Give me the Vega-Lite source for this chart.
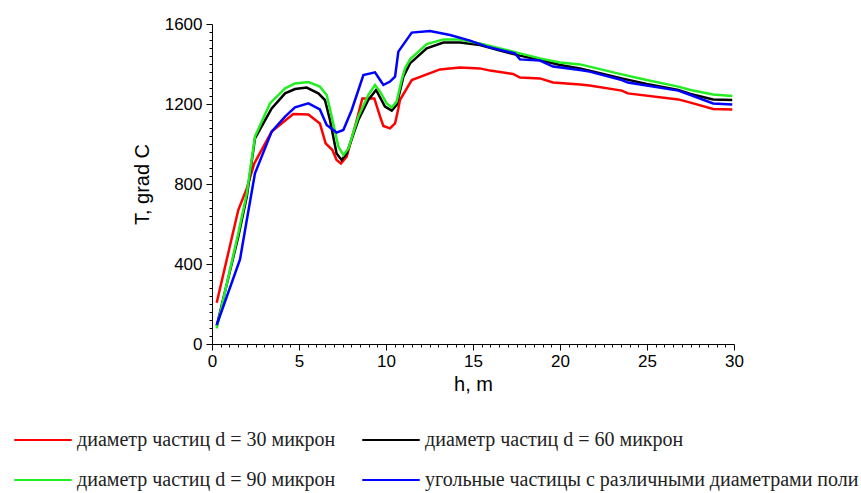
{
  "$schema": "https://vega.github.io/schema/vega-lite/v6.json",
  "autosize": "none",
  "width": 522,
  "height": 320,
  "padding": {"left": 212, "top": 24, "right": 127, "bottom": 149},
  "background": "white",
  "config": {"view": {"stroke": null}},
  "datasets": {
    "red": [
      {"h":0.27,"T":206},{"h":1.51,"T":670},{"h":2.0,"T":778},{"h":2.43,"T":903},{"h":3.43,"T":1062},{"h":4.67,"T":1150},{"h":5.54,"T":1148},{"h":6.2,"T":1103},{"h":6.53,"T":1003},{"h":6.92,"T":970},{"h":7.16,"T":920},{"h":7.41,"T":903},{"h":7.74,"T":937},{"h":8.22,"T":1087},{"h":8.64,"T":1228},{"h":9.33,"T":1228},{"h":9.66,"T":1137},{"h":9.85,"T":1090},{"h":10.23,"T":1078},{"h":10.52,"T":1103},{"h":10.71,"T":1178},{"h":10.8,"T":1220},{"h":11.48,"T":1320},{"h":13.1,"T":1373},{"h":14.25,"T":1383},{"h":15.4,"T":1378},{"h":15.98,"T":1367},{"h":17.3,"T":1350},{"h":17.7,"T":1332},{"h":18.85,"T":1328},{"h":19.6,"T":1308},{"h":21.15,"T":1298},{"h":21.7,"T":1292},{"h":23.55,"T":1267},{"h":23.9,"T":1253},{"h":26.8,"T":1223},{"h":27.5,"T":1207},{"h":28.8,"T":1175},{"h":29.9,"T":1172}
    ],
    "black": [
      {"h":0.27,"T":90},{"h":1.51,"T":537},{"h":2.0,"T":737},{"h":2.47,"T":1028},{"h":3.43,"T":1178},{"h":4.2,"T":1253},{"h":4.77,"T":1275},{"h":5.44,"T":1282},{"h":6.11,"T":1253},{"h":6.49,"T":1220},{"h":6.78,"T":1120},{"h":7.16,"T":953},{"h":7.45,"T":920},{"h":7.74,"T":953},{"h":8.41,"T":1120},{"h":8.98,"T":1220},{"h":9.43,"T":1270},{"h":9.94,"T":1187},{"h":10.33,"T":1167},{"h":10.61,"T":1195},{"h":11.0,"T":1337},{"h":11.38,"T":1403},{"h":12.34,"T":1478},{"h":13.3,"T":1507},{"h":14.25,"T":1507},{"h":15.4,"T":1495},{"h":16.55,"T":1467},{"h":17.7,"T":1442},{"h":18.85,"T":1420},{"h":20,"T":1395},{"h":21.15,"T":1378},{"h":21.7,"T":1367},{"h":23.55,"T":1328},{"h":24.98,"T":1300},{"h":26.8,"T":1270},{"h":27.5,"T":1250},{"h":28.8,"T":1223},{"h":29.9,"T":1220}
    ],
    "green": [
      {"h":0.27,"T":78},{"h":1.51,"T":553},{"h":2.0,"T":753},{"h":2.47,"T":1037},{"h":3.33,"T":1203},{"h":4.2,"T":1278},{"h":4.77,"T":1303},{"h":5.54,"T":1310},{"h":6.2,"T":1287},{"h":6.59,"T":1245},{"h":6.88,"T":1137},{"h":7.26,"T":987},{"h":7.55,"T":945},{"h":7.84,"T":978},{"h":8.41,"T":1137},{"h":8.98,"T":1245},{"h":9.37,"T":1295},{"h":9.66,"T":1262},{"h":10.04,"T":1203},{"h":10.33,"T":1183},{"h":10.61,"T":1212},{"h":10.9,"T":1320},{"h":11.09,"T":1378},{"h":11.38,"T":1423},{"h":12.34,"T":1500},{"h":13.3,"T":1523},{"h":14.25,"T":1523},{"h":15.4,"T":1503},{"h":16.55,"T":1478},{"h":17.7,"T":1453},{"h":18.85,"T":1428},{"h":20,"T":1408},{"h":21.15,"T":1398},{"h":21.7,"T":1387},{"h":23.55,"T":1348},{"h":24.98,"T":1320},{"h":26.8,"T":1287},{"h":27.5,"T":1270},{"h":28.8,"T":1248},{"h":29.9,"T":1240}
    ],
    "blue": [
      {"h":0.27,"T":95},{"h":1.61,"T":423},{"h":2.0,"T":620},{"h":2.47,"T":853},{"h":3.43,"T":1062},{"h":4.2,"T":1137},{"h":4.77,"T":1183},{"h":5.54,"T":1203},{"h":6.2,"T":1173},{"h":6.59,"T":1095},{"h":7.16,"T":1057},{"h":7.55,"T":1070},{"h":8.03,"T":1170},{"h":8.7,"T":1345},{"h":9.37,"T":1358},{"h":9.66,"T":1320},{"h":9.85,"T":1295},{"h":10.23,"T":1312},{"h":10.52,"T":1337},{"h":10.71,"T":1462},{"h":11.48,"T":1557},{"h":12.53,"T":1565},{"h":13.68,"T":1545},{"h":14.83,"T":1517},{"h":15.79,"T":1487},{"h":17.41,"T":1453},{"h":17.7,"T":1423},{"h":18.85,"T":1417},{"h":19.6,"T":1387},{"h":21.15,"T":1370},{"h":21.7,"T":1362},{"h":23.55,"T":1320},{"h":23.9,"T":1307},{"h":26.8,"T":1267},{"h":27.5,"T":1245},{"h":28.8,"T":1203},{"h":29.9,"T":1198}
    ]
  },
  "encoding": {
    "x": {
      "field": "h", "type": "quantitative",
      "scale": {"domain": [0, 30], "nice": false, "zero": false},
      "axis": {
        "title": "h, m",
        "values": [0,0.5,1,1.5,2,2.5,3,3.5,4,4.5,5,5.5,6,6.5,7,7.5,8,8.5,9,9.5,10,10.5,11,11.5,12,12.5,13,13.5,14,14.5,15,15.5,16,16.5,17,17.5,18,18.5,19,19.5,20,20.5,21,21.5,22,22.5,23,23.5,24,24.5,25,25.5,26,26.5,27,27.5,28,28.5,29,29.5,30],
        "labelExpr": "datum.value % 5 === 0 ? format(datum.value, 'd') : ''",
        "labelOverlap": false,
        "labelFlush": false,
        "grid": false,
        "domainColor": "black",
        "domainWidth": 1,
        "tickColor": "black",
        "tickSize": {"condition": {"test": "datum.value % 5 === 0", "value": 6}, "value": 3},
        "labelFont": "Liberation Sans",
        "labelFontSize": 17,
        "labelColor": "black",
        "labelPadding": 3,
        "titleFont": "Liberation Sans",
        "titleFontSize": 20,
        "titleFontWeight": "normal",
        "titleColor": "black",
        "titlePadding": 5
      }
    },
    "y": {
      "field": "T", "type": "quantitative",
      "scale": {"domain": [0, 1600], "nice": false},
      "axis": {
        "title": "T, grad C",
        "values": [0,40,80,120,160,200,240,280,320,360,400,440,480,520,560,600,640,680,720,760,800,840,880,920,960,1000,1040,1080,1120,1160,1200,1240,1280,1320,1360,1400,1440,1480,1520,1560,1600],
        "labelExpr": "datum.value % 400 === 0 ? format(datum.value, 'd') : ''",
        "labelOverlap": false,
        "grid": false,
        "domainColor": "black",
        "domainWidth": 1,
        "tickColor": "black",
        "tickSize": {"condition": {"test": "datum.value % 400 === 0", "value": 6}, "value": 3},
        "labelFont": "Liberation Sans",
        "labelFontSize": 17,
        "labelColor": "black",
        "labelPadding": 4,
        "titleFont": "Liberation Sans",
        "titleFontSize": 20,
        "titleFontWeight": "normal",
        "titleColor": "black",
        "titlePadding": 12
      }
    },
    "color": {
      "field": "s", "type": "nominal",
      "scale": {
        "domain": ["диаметр частиц d = 30 микрон", "диаметр частиц d = 60 микрон", "диаметр частиц d = 90 микрон", "угольные частицы с различными диаметрами поли"],
        "range": ["#ff0000", "#000000", "#22ee22", "#0000ff"]
      },
      "legend": {
        "title": null,
        "orient": "none",
        "legendX": -199,
        "legendY": 386,
        "direction": "horizontal",
        "columns": 2,
        "symbolType": "stroke",
        "symbolSize": 3300,
        "symbolStrokeWidth": 2,
        "labelFont": "Liberation Serif",
        "labelFontSize": 20,
        "labelColor": "#222222",
        "labelLimit": 2000,
        "labelOffset": 4,
        "rowPadding": -14,
        "columnPadding": 22,
        "padding": 0,
        "offset": 0
      }
    }
  },
  "layer": [
    {"data": {"name": "red"}, "transform": [{"calculate": "'диаметр частиц d = 30 микрон'", "as": "s"}], "mark": {"type": "line", "strokeWidth": 2.5}},
    {"data": {"name": "black"}, "transform": [{"calculate": "'диаметр частиц d = 60 микрон'", "as": "s"}], "mark": {"type": "line", "strokeWidth": 2.5}},
    {"data": {"name": "green"}, "transform": [{"calculate": "'диаметр частиц d = 90 микрон'", "as": "s"}], "mark": {"type": "line", "strokeWidth": 2.5}},
    {"data": {"name": "blue"}, "transform": [{"calculate": "'угольные частицы с различными диаметрами поли'", "as": "s"}], "mark": {"type": "line", "strokeWidth": 2.5}}
  ]
}
